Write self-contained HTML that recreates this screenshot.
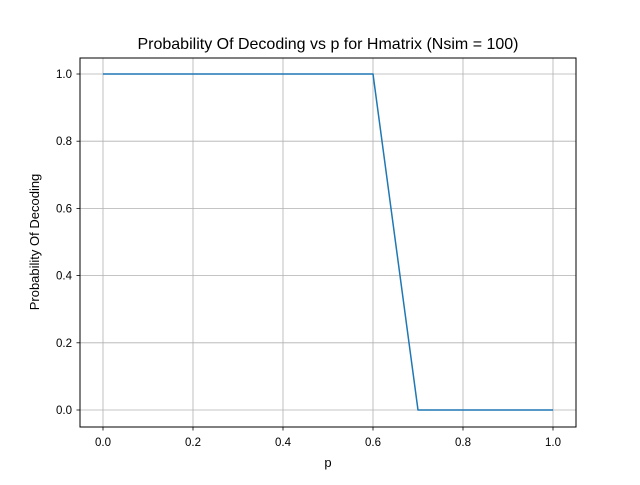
<!DOCTYPE html>
<html><head><meta charset="utf-8"><style>
body{margin:0;background:#fff}
svg{font-family:"Liberation Sans","DejaVu Sans",sans-serif}
</style></head><body>
<svg id="chart" width="640" height="480" viewBox="0 0 640 480">
<rect width="640" height="480" fill="#fff"/>
<text x="328" y="49" text-anchor="middle" font-size="16" fill="#000">Probability Of Decoding vs p for Hmatrix (Nsim = 100)</text>
<g id="grid"></g>
<g id="ticks"></g>
<g id="series"></g>
<rect x="80" y="58" width="496" height="369" fill="none" stroke="#000" stroke-width="1"/>
<text x="328" y="467" text-anchor="middle" font-size="13">p</text>
<text transform="translate(39,242) rotate(-90)" text-anchor="middle" font-size="13">Probability Of Decoding</text>
</svg>
<script>
const pValues=[0,0.1,0.2,0.3,0.4,0.5,0.6,0.7,0.8,0.9,1.0];
const probValues=[1,1,1,1,1,1,1,0,0,0,0];
const xTicks=[0,0.2,0.4,0.6,0.8,1.0];
const yTicks=[0,0.2,0.4,0.6,0.8,1.0];
const NS="http://www.w3.org/2000/svg";
function xs(v){return 103+v*450;}
function ys(v){return 410-v*336;}
const grid=document.getElementById('grid'),ticks=document.getElementById('ticks'),series=document.getElementById('series');
function mk(tag,attrs,parent){const e=document.createElementNS(NS,tag);for(const k in attrs)e.setAttribute(k,attrs[k]);parent.appendChild(e);return e;}
xTicks.forEach(t=>{
  const x=xs(t);
  const g=mk('line',{x1:x,x2:x,y1:58,y2:427,stroke:'#b0b0b0','stroke-width':0.8},grid);
  
  
  const tk=mk('line',{x1:x,x2:x,y1:427,y2:430.5,stroke:'#000','stroke-width':0.8},ticks);
  
  
  const tx=mk('text',{x:x,y:446,'text-anchor':'middle','font-size':11.5},ticks);
  tx.textContent=t.toFixed(1);
  
  
});
yTicks.forEach(t=>{
  const y=ys(t);
  const g=mk('line',{x1:80,x2:576,y1:y,y2:y,stroke:'#b0b0b0','stroke-width':0.8},grid);
  
  
  const tk=mk('line',{x1:76.5,x2:80,y1:y,y2:y,stroke:'#000','stroke-width':0.8},ticks);
  
  
  const tx=mk('text',{x:72,y:y+4,'text-anchor':'end','font-size':11.5},ticks);
  tx.textContent=t.toFixed(1);
  
  
});
const pts=pValues.map((p,i)=>xs(p)+','+ys(probValues[i])).join(' ');
const line=mk('polyline',{points:pts,fill:'none',stroke:'#1f77b4','stroke-width':1.5,'stroke-linejoin':'round'},series);


</script>
</body></html>
